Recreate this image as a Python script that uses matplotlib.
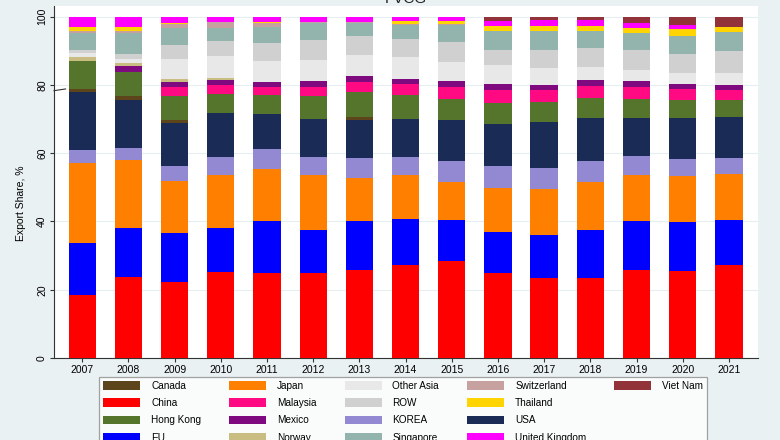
import numpy as np
import matplotlib
matplotlib.use('Agg')
import matplotlib.pyplot as plt
from matplotlib.patches import Patch

plt.rcParams['font.family'] = ['Liberation Sans', 'DejaVu Sans']

years = [2007, 2008, 2009, 2010, 2011, 2012, 2013, 2014, 2015, 2016, 2017, 2018, 2019, 2020, 2021]

# stack order, bottom to top
china = [18.4, 23.6, 22.4, 25.1, 25.0, 24.8, 25.9, 27.1, 28.3, 25.0, 23.3, 23.3, 25.9, 25.6, 27.1]
eu = [15.2, 14.6, 14.2, 12.9, 15.0, 12.8, 14.1, 13.7, 12.2, 12.0, 12.8, 14.3, 14.1, 14.1, 13.4]
japan = [23.6, 19.9, 15.2, 15.5, 15.5, 16.0, 12.8, 12.7, 11.1, 12.9, 13.5, 14.0, 13.6, 13.7, 13.5]
korea = [3.8, 3.5, 4.3, 5.3, 5.6, 5.2, 5.8, 5.3, 6.0, 6.4, 6.1, 6.0, 5.5, 4.8, 4.6]
usa = [16.9, 13.9, 12.7, 12.9, 10.5, 11.1, 11.1, 11.3, 12.0, 12.2, 13.4, 12.8, 11.3, 12.2, 12.1]
canada = [0.9, 1.2, 1.0, 0.2, 0, 0, 1.0, 0, 0, 0, 0, 0, 0, 0, 0]
hong_kong = [8.2, 7.2, 6.8, 5.5, 5.5, 6.7, 7.1, 7.0, 6.3, 6.1, 5.8, 5.8, 5.5, 5.1, 4.8]
malaysia = [0, 0, 2.9, 2.6, 2.4, 2.7, 3.1, 3.2, 3.6, 4.0, 3.5, 3.5, 3.6, 3.3, 3.1]
mexico = [0, 1.5, 1.2, 1.3, 1.2, 1.7, 1.7, 1.4, 1.7, 1.7, 1.6, 1.6, 1.5, 1.5, 1.4]
norway = [1.2, 0.9, 1.0, 0.7, 0, 0, 0, 0, 0, 0, 0, 0, 0, 0, 0]
other_asia = [1.0, 1.2, 6.0, 6.5, 6.2, 6.2, 6.1, 6.5, 5.5, 5.5, 4.8, 4.0, 3.3, 3.2, 3.5]
row = [0.9, 1.5, 4.0, 4.3, 5.4, 5.8, 5.5, 5.3, 5.8, 4.5, 5.3, 5.6, 6.0, 5.4, 6.4]
singapore = [5.2, 6.3, 5.1, 4.0, 4.7, 5.0, 3.9, 4.0, 5.0, 5.6, 5.6, 5.0, 4.8, 5.5, 5.5]
switzerland = [0.5, 0.6, 1.0, 1.5, 1.1, 0.5, 0.3, 0.2, 0.2, 0, 0, 0, 0, 0, 0]
thailand = [1.2, 1.1, 0.2, 0.2, 0.2, 0, 0, 1.0, 1.0, 1.4, 1.6, 1.4, 1.5, 1.9, 1.6]
uk = [3.0, 3.0, 2.0, 1.5, 1.7, 1.5, 1.6, 1.3, 1.3, 1.4, 1.6, 1.6, 1.4, 1.3, 0]
viet_nam = [0, 0, 0, 0, 0, 0, 0, 0, 0, 1.3, 1.1, 1.1, 2.0, 2.4, 3.0]

stack = [
    ('China', china, '#ff0000'),
    ('EU', eu, '#0000ff'),
    ('Japan', japan, '#ff8000'),
    ('KOREA', korea, '#9388d2'),
    ('USA', usa, '#1a2b56'),
    ('Canada', canada, '#5c451a'),
    ('Hong Kong', hong_kong, '#55752c'),
    ('Malaysia', malaysia, '#ff0a82'),
    ('Mexico', mexico, '#7f0a7f'),
    ('Norway', norway, '#c9bd82'),
    ('Other Asia', other_asia, '#e8e8e8'),
    ('ROW', row, '#d0d0d0'),
    ('Singapore', singapore, '#93b3ad'),
    ('Switzerland', switzerland, '#c6a19f'),
    ('Thailand', thailand, '#ffd400'),
    ('United Kingdom', uk, '#ff00ff'),
    ('Viet Nam', viet_nam, '#923239'),
]
legend_order = ['Canada', 'China', 'Hong Kong', 'EU', 'Japan', 'Malaysia', 'Mexico', 'Norway',
                'Other Asia', 'ROW', 'KOREA', 'Singapore', 'Switzerland', 'Thailand', 'USA',
                'United Kingdom', 'Viet Nam']

bg = '#eaf1f3'
fig = plt.figure(figsize=(7.8, 4.4), dpi=100, facecolor=bg)
ax = fig.add_axes([54 / 780, 1 - 358 / 440, 704 / 780, 352 / 440])
ax.set_facecolor('white')

handles = {}
bottom = np.zeros(len(years))
for name, vals, col in stack:
    vals = np.array(vals, dtype=float)
    b = ax.bar(years, vals, bottom=bottom, width=0.59, color=col, linewidth=0, zorder=3)
    handles[name] = b
    bottom += vals

ax.set_xlim(2006.39, 2021.63)
ax.set_ylim(0, 103.1)
ax.set_yticks([0, 20, 40, 60, 80, 100])
ax.set_xticks(years)
ax.tick_params(axis='y', labelsize=7.5, rotation=90, length=3, color='#333333', pad=2)
ax.tick_params(axis='x', labelsize=7.5, length=3, color='#333333', pad=2)
for t in ax.get_yticklabels():
    t.set_va('center')
ax.grid(axis='y', color='#e7eef1', linewidth=0.8, zorder=0)
for s in ['top', 'right']:
    ax.spines[s].set_visible(False)
for s in ['left', 'bottom']:
    ax.spines[s].set_color('#333333')
    ax.spines[s].set_linewidth(0.8)
ax.set_ylabel('Export Share, %', fontsize=7.5)
ax.yaxis.set_label_coords(-0.04, 0.44)

# break mark at 80
ax.plot([2006.39, 2006.64], [78.3, 78.8], color='#333333', linewidth=0.8, clip_on=False, zorder=4)

fig.text(0.52, 0.993, 'FVCG', ha='center', va='baseline', fontsize=11, color='#222222')

# pad last column so the legend fills 4,4,4,4,1 like the original
leg_handles = [handles[n] for n in legend_order]
leg_labels = list(legend_order)
for i in range(3):
    leg_handles.append(Patch(facecolor='none', edgecolor='none'))
    leg_labels.append('')

leg = fig.legend(leg_handles, leg_labels, ncol=5,
                 loc='upper left', bbox_to_anchor=(99 / 780, 1 - 377 / 440),
                 bbox_transform=fig.transFigure, borderaxespad=0, fontsize=7.2,
                 handlelength=3.7, handleheight=1.0, handletextpad=1.1,
                 columnspacing=2.8, labelspacing=0.72, borderpad=0.4,
                 fancybox=False, frameon=True)
leg.get_frame().set_edgecolor('#8c8c8c')
leg.get_frame().set_linewidth(0.9)

fig.savefig('out.png', dpi=100, facecolor=bg)
